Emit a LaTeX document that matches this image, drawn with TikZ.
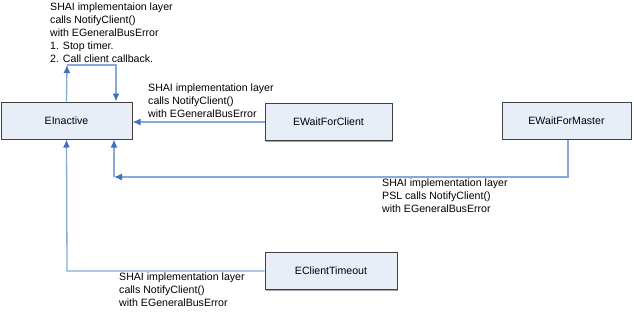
\documentclass[tikz,border=0pt]{standalone}
\usepackage{fontspec}
\setmainfont{Liberation Sans}
\usetikzlibrary{arrows.meta, shadows}

\definecolor{boxfill}{HTML}{E8EEF8}
\definecolor{boxline}{HTML}{404040}
\definecolor{connline}{HTML}{86A9DA}
\definecolor{tipblue}{HTML}{3F70C0}

\begin{document}
\begin{tikzpicture}[x=1pt, y=-1pt,
    >={Latex[length=8pt,width=7pt,color=tipblue]},
    font=\fontsize{10.6}{12.9}\selectfont,
    state/.style={draw=boxline, line width=1pt, fill=boxfill, inner sep=0pt,
        minimum height=37pt,
        drop shadow={shadow xshift=1pt, shadow yshift=-1pt, fill=gray, opacity=.7}},
    conn/.style={draw=connline, line width=1.3pt},
    note/.style={anchor=north west, align=left, inner sep=0pt}]

    \useasboundingbox (0,0) rectangle (634,311);

    % Stavy
    \node[state, minimum width=131pt] (inactive) at (66.5,120.5) {EInactive};
    \node[state, minimum width=127pt] (waitclient) at (328.5,122) {EWaitForClient};
    \node[state, minimum width=129pt] (waitmaster) at (566.5,120.5) {EWaitForMaster};
    \node[state, minimum width=132pt] (timeout) at (331,271) {EClientTimeout};

    % Smycka na EInactive
    \coordinate (loopL) at (67,65);
    \coordinate (loopR) at (116,65);
    \draw[conn, ->] (inactive.north) -- (loopL);
    \draw[conn, ->] (loopL) -- (loopR) -- (loopR |- inactive.north);
    \node[note] (loopnote) at (50,3) {SHAI implementaion layer\\calls NotifyClient()\\with EGeneralBusError\\1. Stop timer.\\2. Call client callback.};

    % EWaitForClient -> EInactive
    \draw[conn, ->] (waitclient.west) -- (waitclient.west -| inactive.east);
    \node[note] (clientnote) at (148,84) {SHAI implementation layer\\calls NotifyClient()\\with EGeneralBusError};

    % EWaitForMaster -> EInactive
    \coordinate (masterR) at (568,177);
    \coordinate (masterL) at (114,177);
    \draw[conn, ->] (waitmaster.south -| masterR) -- (masterR) -- (masterL);
    \draw[conn, ->] (masterL) -- (masterL |- inactive.south);
    \node[note] (masternote) at (382,179) {SHAI implementation layer\\PSL calls NotifyClient()\\with EGeneralBusError};

    % EClientTimeout -> EInactive
    \coordinate (timeoutL) at (67,271);
    \draw[conn, ->] (timeout.west) -- (timeoutL) -- (inactive.south);
    \node[note] (timeoutnote) at (119,273) {SHAI implementation layer\\calls NotifyClient()\\with EGeneralBusError};

\end{tikzpicture}
\end{document}
